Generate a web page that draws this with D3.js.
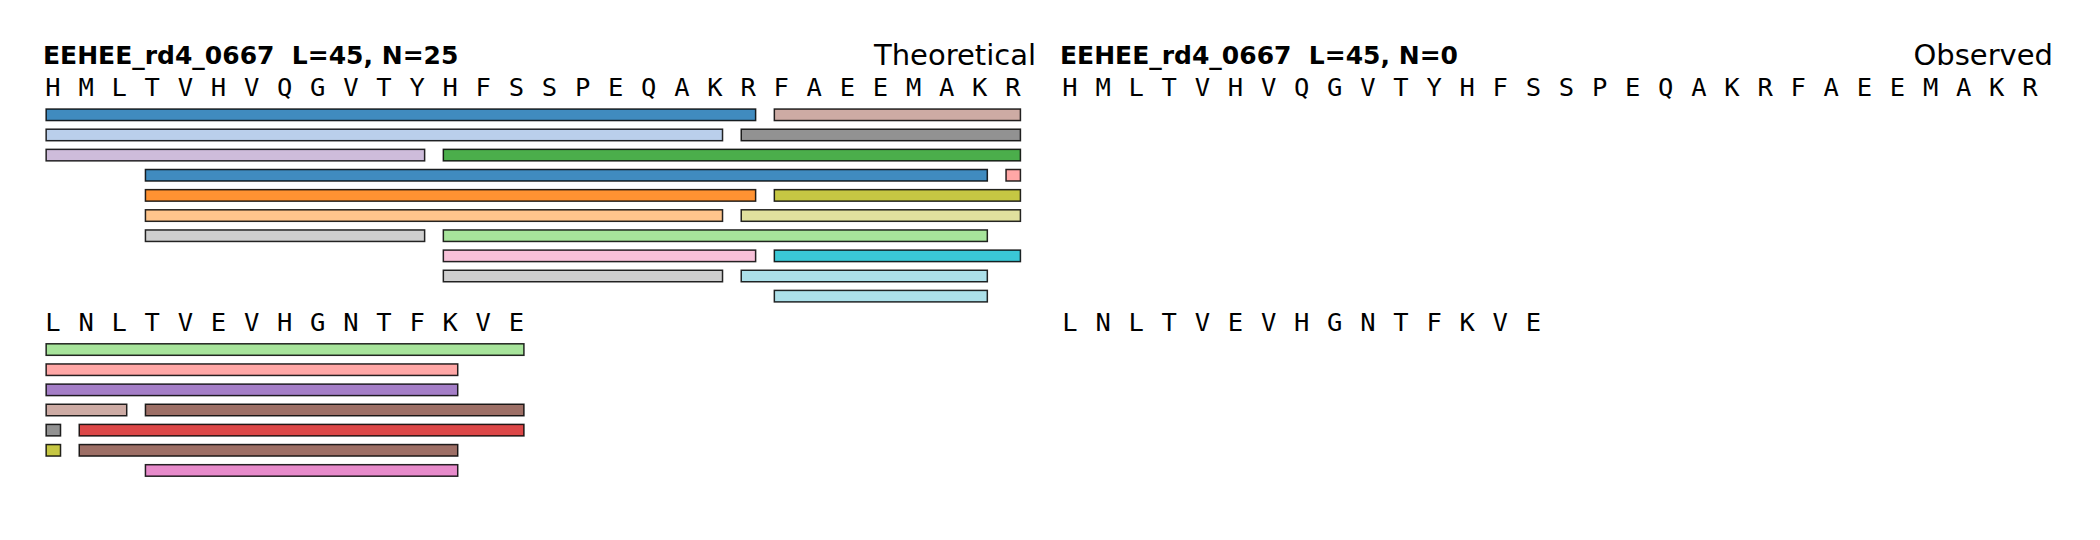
<!DOCTYPE html>
<html><head><meta charset="utf-8">
<script src="https://cdn.jsdelivr.net/npm/d3@7"></script>
<style>html,body{margin:0;padding:0;background:#fff;}svg{display:block;} text{white-space:pre;}</style>
</head><body>
<script>
// ---- data ----
const proteinName = "EEHEE_rd4_0667";
const sequence = "HMLTVHVQGVTYHFSSPEQAKRFAEEMAKRLNLTVEVHGNTFKVE";
const residuesPerRow = 30;
const panelLabels = ["Theoretical", "Observed"];
const panelCounts = [25, 0];
// Theoretical panel segments (global residue index, 0-based)
const segStart = [0, 22, 0, 21, 0, 12, 3, 29, 3, 22, 3, 21, 3, 12, 12, 22, 12, 21, 22,
                  30, 30, 30, 30, 33, 30, 31, 30, 31, 33];
const segEnd   = [21, 29, 20, 29, 11, 29, 28, 29, 21, 29, 20, 29, 11, 28, 21, 29, 20, 28, 28,
                  44, 42, 42, 32, 44, 30, 44, 30, 42, 42];
const segLine  = [0, 0, 1, 1, 2, 2, 3, 3, 4, 4, 5, 5, 6, 6, 7, 7, 8, 8, 9,
                  0, 1, 2, 3, 3, 4, 4, 5, 5, 6];
const segColor = [0, 11, 1, 14, 9, 4, 0, 7, 2, 16, 3, 17, 15, 5, 13, 18, 15, 19, 19,
                  5, 7, 8, 11, 10, 14, 6, 16, 10, 12];
const palette = ["#1f77b4","#aec7e8","#ff7f0e","#ffbb78","#2ca02c","#98df8a","#d62728","#ff9896",
                 "#9467bd","#c5b0d5","#8c564b","#c49c94","#e377c2","#f7b6d2","#7f7f7f","#c7c7c7",
                 "#bcbd22","#dbdb8d","#17becf","#9edae5"];

// ---- layout ----
const W = 2100, H = 540;
const svg = d3.select("body").append("svg").attr("width", W).attr("height", H);
const panelDx = 1017;
const x = d3.scaleLinear().domain([0, residuesPerRow - 1]).range([53, 53 + 29 * 33.1]);
const lineH = 20.15, blockLines = 11.65;
const y = d3.scaleLinear().domain([0, 1]).range([108.3, 108.3 + lineH]);

const segs = segStart.map((s, k) => ({
  block: Math.floor(s / residuesPerRow),
  s: s % residuesPerRow,
  e: segEnd[k] % residuesPerRow,
  line: segLine[k],
  color: palette[segColor[k]]
}));

const rows = d3.range(Math.ceil(sequence.length / residuesPerRow)).map(b =>
  sequence.slice(b * residuesPerRow, (b + 1) * residuesPerRow).split(""));

panelLabels.forEach((label, p) => {
  const g = svg.append("g").attr("transform", `translate(${p * panelDx},0)`);
  g.append("text").attr("x", 43).attr("y", 63.5).attr("xml:space", "preserve")
    .attr("font-family", "DejaVu Sans").attr("font-weight", "bold").attr("font-size", 25)
    .text(`${proteinName}  L=${sequence.length}, N=${panelCounts[p]}`);
  g.append("text").attr("x", 1036).attr("y", 65).attr("text-anchor", "end")
    .attr("font-family", "DejaVu Sans").attr("font-size", 29)
    .text(label);
  rows.forEach((letters, b) => {
    g.append("g").selectAll("text").data(letters).join("text")
      .attr("x", (d, i) => x(i)).attr("y", y(b * blockLines - 0.6))
      .attr("text-anchor", "middle")
      .attr("font-family", "DejaVu Sans Mono").attr("font-size", 25.5)
      .text(d => d);
  });
  if (p === 0) {
    g.append("g").selectAll("rect").data(segs).join("rect")
      .attr("x", d => x(d.s - 0.23) + 0.75)
      .attr("width", d => x(d.e + 0.25) - x(d.s - 0.23) - 1.5)
      .attr("y", d => y(d.block * blockLines + d.line) + 0.75)
      .attr("height", 11.5)
      .attr("fill", d => d.color).attr("fill-opacity", 0.85)
      .attr("stroke", "#000").attr("stroke-opacity", 0.85).attr("stroke-width", 1.5);
  }
});
</script>
</body></html>
